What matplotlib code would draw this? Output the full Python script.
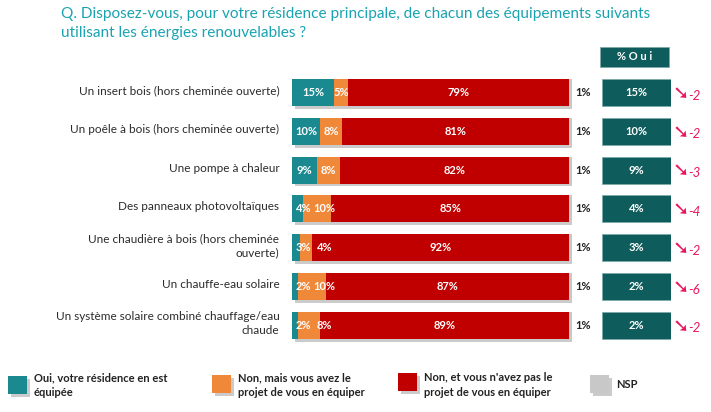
"""
Equipements energies renouvelables - residence principale.
Barres empilees (Oui / projet / non / NSP) + colonne % Oui a droite.
"""
import matplotlib.pyplot as plt
import matplotlib.patheffects as pe
from matplotlib.patches import Rectangle

# ====== DONNEES ======
labels = [
    'Un insert bois (hors cheminée ouverte)',
    'Un poêle à bois (hors cheminée ouverte)',
    'Une pompe à chaleur',
    'Des panneaux photovoltaïques',
    'Une chaudière à bois (hors cheminée\nouverte)',
    'Un chauffe-eau solaire',
    'Un système solaire combiné chauffage/eau\nchaude',
]
oui    = [15, 10, 9, 4, 3, 2, 2]
projet = [5, 8, 8, 10, 4, 10, 8]
non    = [79, 81, 82, 85, 92, 87, 89]
nsp    = [1, 1, 1, 1, 1, 1, 1]
evol   = ['-2', '-2', '-3', '-4', '-2', '-6', '-2']

legend_labels = ['Oui, votre résidence en est\néquipée',
                 'Non, mais vous avez le\nprojet de vous en équiper',
                 "Non, et vous n'avez pas le\nprojet de vous en équiper",
                 'NSP']
# =====================

C_OUI, C_PROJ, C_NON, C_NSP = '#1a8a90', '#f0883a', '#c00000', '#c8c8c8'
C_BOX, C_TITLE, C_EVOL = '#0f5c5c', '#1aa3b0', '#e8175d'
FONT = 'Lato'
plt.rcParams['font.family'] = [FONT, 'DejaVu Sans']

W, H = 711, 412
fig = plt.figure(figsize=(W / 100, H / 100), dpi=100)


def px(x, y):
    return x / W, 1 - y / H


# zone des barres (pixels)
top, step = 92.5, 38.8
y0 = top - step / 2
y1 = y0 + step * len(labels)
ax = fig.add_axes([292 / W, 1 - y1 / H, 280 / W, (y1 - y0) / H])
ax.set_xlim(0, 100)
ax.set_ylim(len(labels) - 0.5, -0.5)
ax.axis('off')

shadow = [pe.SimplePatchShadow(offset=(2, -2), shadow_rgbFace='#999999', alpha=0.5), pe.Normal()]
rows = list(range(len(labels)))
left = [0] * len(labels)
for vals, col in [(oui, C_OUI), (projet, C_PROJ), (non, C_NON), (nsp, C_NSP)]:
    bars = ax.barh(rows, vals, left=left, height=0.7, color=col, linewidth=0)
    for b in bars:
        b.set_path_effects(shadow)
    left = [l + v for l, v in zip(left, vals)]

lab_kw = dict(color='white', fontsize=8, fontweight='bold', va='center', ha='center')
for i in rows:
    x_oui = max(oui[i] / 2, 4.0)
    ax.text(x_oui, i, f'{oui[i]}%', **lab_kw)
    x_proj = max(oui[i] + projet[i] / 2, x_oui + 7.5)
    ax.text(x_proj, i, f'{projet[i]}%', **lab_kw)
    ax.text(oui[i] + projet[i] + non[i] / 2, i, f'{non[i]}%', **lab_kw)
    ax.text(101.2, i, f'{nsp[i]}%', color='#222222', fontsize=8, fontweight='bold',
            va='center', ha='left')
    ax.text(-4.5, i - 0.05, labels[i], color='#2b2b2b', fontsize=8.5, va='center', ha='right',
            linespacing=1.3)

# colonne % Oui
ax2 = fig.add_axes([601.7 / W, 1 - y1 / H, 69.3 / W, (y1 - y0) / H])
ax2.set_xlim(0, 1)
ax2.set_ylim(len(labels) - 0.5, -0.5)
ax2.axis('off')
ax2.barh(rows, [1] * len(rows), height=0.7, color=C_BOX, edgecolor='#7fa9a9', linewidth=0.6)
ax2.barh([-0.915], [1], left=-0.025, height=0.52, color=C_BOX, edgecolor='#7fa9a9',
         linewidth=0.6, clip_on=False)
ax2.text(0.475, -0.915, '% O u i', color='white', fontsize=8, fontweight='bold',
         ha='center', va='center', clip_on=False)
for i in rows:
    ax2.text(0.5, i, f'{oui[i]}%', color='white', fontsize=8, fontweight='bold',
             ha='center', va='center')
    ax2.text(1.03, i + 0.02, '➘', color=C_EVOL, fontsize=14,
             family='DejaVu Sans', ha='left', va='center', clip_on=False)
    ax2.text(1.255, i + 0.08, evol[i], color=C_EVOL, fontsize=9.5, style='italic',
             ha='left', va='center', clip_on=False)

# titre
fig.text(*px(61, 14), 'Q. Disposez-vous, pour votre résidence principale, de chacun des équipements suivants',
         color=C_TITLE, fontsize=11.1, va='center', ha='left')
fig.text(*px(61, 33), 'utilisant les énergies renouvelables ?',
         color=C_TITLE, fontsize=11.1, va='center', ha='left')

# legende manuelle
leg = [(8, 376, C_OUI), (212, 375, C_PROJ), (398, 373, C_NON), (590, 375, C_NSP)]
for (x, y, col), lab in zip(leg, legend_labels):
    r = Rectangle(px(x, y + 18), 19 / W, 18 / H, transform=fig.transFigure,
                  facecolor=col, linewidth=0)
    r.set_path_effects(shadow)
    fig.add_artist(r)
    fig.text(*px(x + 26, 385), lab, fontsize=8, fontweight='bold', color='#222222',
             va='center', ha='left', linespacing=1.45)

fig.savefig('out.png', dpi=100)
